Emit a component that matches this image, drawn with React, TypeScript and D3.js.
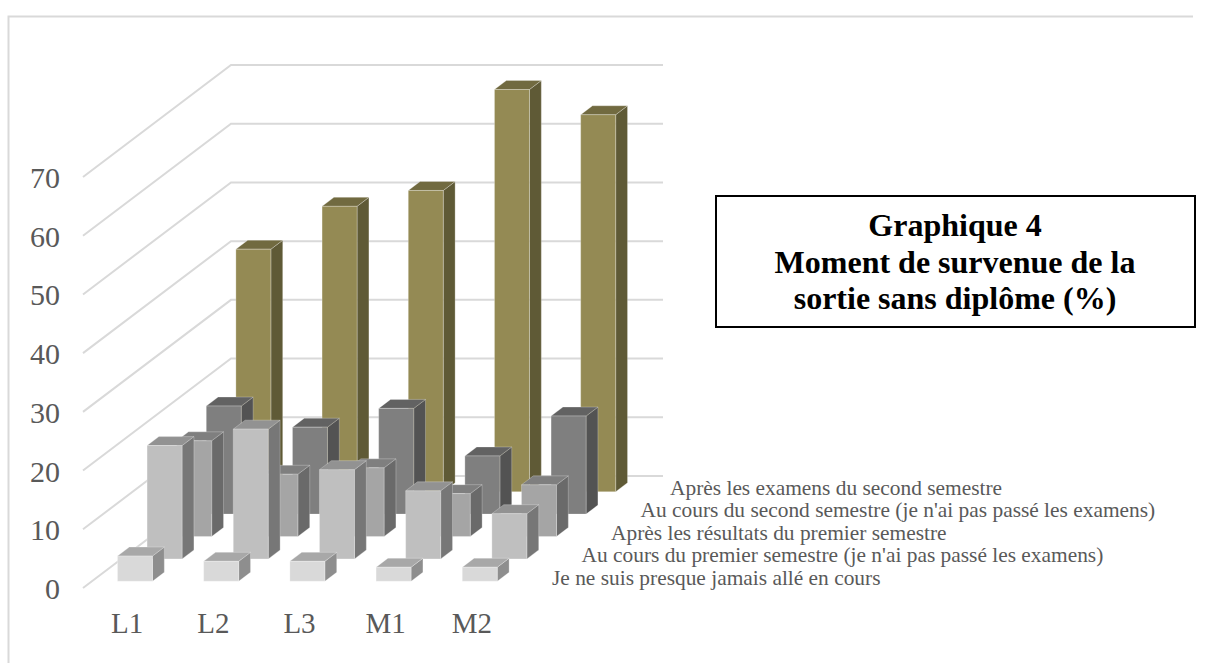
import React from 'react';
import * as d3 from 'd3';

const WIDTH = 1205;
const HEIGHT = 663;

const categories = ['L1', 'L2', 'L3', 'M1', 'M2'];
const seriesNames = [
  'Je ne suis presque jamais allé en cours',
  "Au cours du premier semestre (je n'ai pas passé les examens)",
  'Après les résultats du premier semestre',
  "Au cours du second semestre (je n'ai pas passé les examens)",
  'Après les examens du second semestre',
];
const jamaisEnCours = [4.3, 3.4, 3.4, 2.4, 2.4];
const premierSemestre = [19.3, 22.1, 15.2, 11.6, 7.7];
const resultatsPremier = [16.3, 10.6, 11.7, 7.3, 8.8];
const secondSemestre = [18.4, 14.8, 18, 9.9, 16.7];
const apresExamens = [41.3, 48.6, 51.3, 68.5, 64.2];
const seriesValues = [jamaisEnCours, premierSemestre, resultatsPremier, secondSemestre, apresExamens];

const yTicks = [0, 10, 20, 30, 40, 50, 60, 70];
const faceColors = ['#d9d9d9', '#bfbfbf', '#a5a5a5', '#7f7f7f', '#948a54'];
const topColors = ['#a8a8a8', '#929292', '#7f7f7f', '#626262', '#716a40'];
const sideColors = ['#8e8e8e', '#777777', '#6a6a6a', '#535353', '#5f5a36'];

// oblique projection: x along categories, z goes back through the series
const x = d3.scaleBand().domain(categories).range([83, 514]).paddingInner(0.594).paddingOuter(0.297);
const y = d3.scaleLinear().domain([0, 70]).range([0, 411]);
const z = d3.scaleBand().domain(d3.range(5).map(String)).range([0, 1]).paddingInner(0.6).paddingOuter(0.3);
const depthX = d3.scaleLinear().domain([0, 1]).range([0, 148]);
const depthY = d3.scaleLinear().domain([0, 1]).range([0, 112]);
const floorY = 588;

const project = (px: number, value: number, depth: number): [number, number] => [
  px + depthX(depth),
  floorY - y(value) - depthY(depth),
];
const poly = (pts: [number, number][]) => (d3.line()(pts) as string) + 'Z';

export default function App() {
  const bars = d3.range(4, -1, -1).flatMap((s) =>
    categories.map((cat, c) => {
      const v = seriesValues[s][c];
      const x0 = x(cat) as number;
      const x1 = x0 + x.bandwidth();
      const d0 = z(String(s)) as number;
      const d1 = d0 + z.bandwidth();
      return {
        key: `${s}-${c}`,
        s,
        front: poly([project(x0, 0, d0), project(x1, 0, d0), project(x1, v, d0), project(x0, v, d0)]),
        side: poly([project(x1, 0, d0), project(x1, 0, d1), project(x1, v, d1), project(x1, v, d0)]),
        top: poly([project(x0, v, d0), project(x1, v, d0), project(x1, v, d1), project(x0, v, d1)]),
      };
    })
  );

  return (
    <svg
      width={WIDTH}
      height={HEIGHT}
      style={{ position: 'absolute', left: 0, top: 0, fontFamily: '"Liberation Serif", serif' }}
    >
      <rect x={0} y={0} width={WIDTH} height={HEIGHT} fill="#fff" />
      <path d="M1193,16.5H8.5V663" fill="none" stroke="#d9d9d9" strokeWidth={2} />
      <g fill="none" stroke="#d9d9d9" strokeWidth={2}>
        {yTicks.map((t) => (
          <path
            key={t}
            d={d3.line()([project(83, t, 0), project(83, t, 1), [663, project(83, t, 1)[1]]]) as string}
          />
        ))}
      </g>
      <g fill="#595959" fontSize={30} textAnchor="end">
        {yTicks.map((t) => (
          <text key={t} x={60} y={floorY - y(t) + 11}>
            {t}
          </text>
        ))}
      </g>
      {bars.map((b) => (
        <g key={b.key} stroke="#ffffff" strokeOpacity={0.25} strokeWidth={1}>
          <path d={b.side} fill={sideColors[b.s]} />
          <path d={b.top} fill={topColors[b.s]} />
          <path d={b.front} fill={faceColors[b.s]} />
        </g>
      ))}
      <g fill="#595959" fontSize={29} textAnchor="middle">
        {categories.map((cat) => (
          <text key={cat} x={(x(cat) as number) + x.bandwidth() / 2 + 1} y={633}>
            {cat}
          </text>
        ))}
      </g>
      <g fill="#595959" fontSize={21.4}>
        {seriesNames.map((name, s) => (
          <text key={name} x={552 + s * 29.5} y={585 - s * 22.6}>
            {name}
          </text>
        ))}
      </g>
      <rect x={716} y={196} width={479} height={131} fill="#fff" stroke="#000" strokeWidth={2} />
      <g fill="#000" fontSize={32} fontWeight="bold" textAnchor="middle">
        <text x={955} y={236}>Graphique 4</text>
        <text x={955} y={273}>Moment de survenue de la</text>
        <text x={955} y={309}>sortie sans diplôme (%)</text>
      </g>
    </svg>
  );
}
